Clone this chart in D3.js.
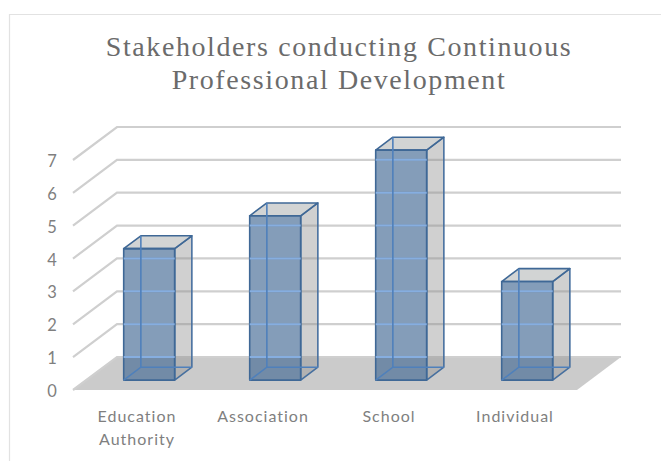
<!DOCTYPE html>
<html lang="en">
  <head>
    <meta charset="UTF-8" />
    <title>Stakeholders conducting Continuous Professional Development</title>
    <style>
      body { margin: 0; background: #fff; }
      svg { display: block; }
    </style>
  </head>
  <body>
    <script src="https://cdn.jsdelivr.net/npm/d3@7"></script>
    <script>
    var categories = ["Education Authority", "Association", "School", "Individual"];
    var values = [4, 5, 7, 3];
    var yTicks = [0, 1, 2, 3, 4, 5, 6, 7];
    var titleLines = ["Stakeholders conducting Continuous", "Professional Development"];

    var width = 661;
    var height = 461;

    var svg = d3.select("body")
      .append("svg")
      .attr("width", width)
      .attr("height", height);

    // chart frame
    svg.append("path")
      .attr("d", "M9.5,461V14.5H661")
      .attr("fill", "none")
      .attr("stroke", "#e2e2e2")
      .attr("stroke-width", 1.2);

    var xScale = d3.scaleBand()
      .domain(categories)
      .range([73, 577]);

    var yScale = d3.scaleLinear()
      .domain([0, 7])
      .range([390, 160]);

    // depth goes from 0 (front of floor) to 1 (back wall)
    var depthX = d3.scaleLinear().domain([0, 1]).range([0, 44]);
    var depthY = d3.scaleLinear().domain([0, 1]).range([0, -33]);

    function pt(x, v, d) {
      return [x + depthX(d), yScale(v) + depthY(d)];
    }

    var line = d3.line();

    function gridPath(t) {
      return line([pt(73, t, 0), pt(73, t, 1), pt(577, t, 1)]);
    }

    // floor
    svg.append("path")
      .attr("d", line([pt(73, 0, 0), pt(577, 0, 0), pt(577, 0, 1), pt(73, 0, 1)]) + "Z")
      .attr("fill", "#cbcbcb");

    // gridlines, side wall and back wall
    svg.selectAll(".grid")
      .data(yTicks)
      .enter()
      .append("path")
      .attr("class", "grid")
      .attr("d", gridPath)
      .attr("fill", "none")
      .attr("stroke", "#cfcfcf")
      .attr("stroke-width", 2.2);

    var barW = 51;
    var d0 = 0.3;
    var d1 = 0.69;

    function barLeft(c) {
      return xScale(c) + (xScale.bandwidth() - barW) / 2;
    }

    var bars = svg.selectAll(".bar")
      .data(categories)
      .enter()
      .append("g")
      .attr("class", "bar");

    function face(cb, fill, opacity, stroke) {
      bars.append("path")
        .attr("d", function(c, i) {
          var x0 = barLeft(c);
          return line(cb(x0, x0 + barW, values[i])) + "Z";
        })
        .attr("fill", fill)
        .attr("fill-opacity", opacity)
        .attr("stroke", stroke)
        .attr("stroke-width", 1.6)
        .attr("stroke-linejoin", "round");
    }

    function frontFace(a, b, v) {
      return [pt(a, 0, d0), pt(b, 0, d0), pt(b, v, d0), pt(a, v, d0)];
    }

    // right side
    face(function(a, b, v) { return [pt(b, 0, d0), pt(b, 0, d1), pt(b, v, d1), pt(b, v, d0)]; }, "#8f8f8f", 0.42, "#47709f");
    // top
    face(function(a, b, v) { return [pt(a, v, d0), pt(b, v, d0), pt(b, v, d1), pt(a, v, d1)]; }, "#b4b8b8", 0.6, "#3f6896");
    // front
    face(frontFace, "#446a94", 0.66, "#3f6896");

    // gridlines show through the front face as a lighter blue
    var defs = svg.append("defs");
    categories.forEach(function(c, i) {
      var x0 = barLeft(c);
      defs.append("clipPath")
        .attr("id", "clip" + i)
        .append("path")
        .attr("d", line(frontFace(x0, x0 + barW, values[i])) + "Z");

      svg.append("g")
        .attr("clip-path", "url(#clip" + i + ")")
        .selectAll("path")
        .data(yTicks)
        .enter()
        .append("path")
        .attr("d", gridPath)
        .attr("fill", "none")
        .attr("stroke", "#86aee0")
        .attr("stroke-width", 2);

      // back edges seen through the front
      svg.append("path")
        .attr("d", line([pt(x0, 0, d0), pt(x0, 0, d1), pt(x0 + barW, 0, d1)]))
        .attr("fill", "none")
        .attr("stroke", "#4f80bb")
        .attr("stroke-width", 1.6);
      svg.append("path")
        .attr("d", line([pt(x0, 0, d1), pt(x0, values[i], d1)]))
        .attr("fill", "none")
        .attr("stroke", "#4f80bb")
        .attr("stroke-width", 1.6);
    });

    // y axis labels
    svg.selectAll(".ylab")
      .data(yTicks)
      .enter()
      .append("text")
      .attr("class", "ylab")
      .attr("x", 52)
      .attr("y", function(t) { return yScale(t) + 1; })
      .attr("dy", "0.36em")
      .attr("text-anchor", "middle")
      .attr("font-family", "Lato")
      .attr("font-size", 16.5)
      .attr("fill", "#7f7f7f")
      .text(function(t) { return t; });

    // category labels, wrapped on spaces
    categories.forEach(function(c) {
      c.split(" ").forEach(function(w, j) {
        svg.append("text")
          .attr("x", xScale(c) + xScale.bandwidth() / 2 + 1)
          .attr("y", 422 + j * 23)
          .attr("text-anchor", "middle")
          .attr("font-family", "Lato")
          .attr("font-size", 16)
          .attr("letter-spacing", 1)
          .attr("fill", "#7f7f7f")
          .text(w);
      });
    });

    svg.selectAll(".title")
      .data(titleLines)
      .enter()
      .append("text")
      .attr("class", "title")
      .attr("x", 339)
      .attr("y", function(d, i) { return 56 + i * 33; })
      .attr("text-anchor", "middle")
      .attr("font-family", "Liberation Serif")
      .attr("font-size", 28)
      .attr("letter-spacing", 1.6)
      .attr("fill", "#6b6b6b")
      .text(function(d) { return d; });
    </script>
  </body>
</html>
